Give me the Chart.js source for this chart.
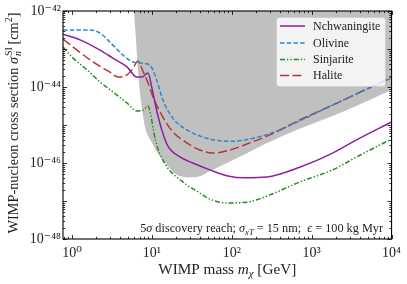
<!DOCTYPE html>
<html>
<head>
<meta charset="utf-8">
<script src="https://cdn.jsdelivr.net/npm/chart.js@4/dist/chart.umd.min.js"></script>
<style>
  html, body { margin: 0; padding: 0; background: #ffffff; }
  #wrap { width: 407px; height: 284px; }
</style>
</head>
<body>
<div id="wrap"><canvas id="c" width="407" height="284"></canvas></div>
<script>
// ---------------- DATA ----------------
const seriesNames = ['Nchwaningite', 'Olivine', 'Sinjarite', 'Halite'];

const massNchwaningite = [0.77, 1.26, 2.24, 3.25, 4.87, 6.49, 7.5, 8.91, 10.0, 11.5, 13.3, 15.8, 22.4, 32.5, 53.1, 89.1, 145, 274, 708, 1830, 3652, 10000];
const sigmaNchwaningite = [2.45e-43, 1.74e-43, 9.33e-44, 5.75e-44, 3.39e-44, 1.82e-44, 1.82e-44, 2.34e-44, 9.33e-45, 2.34e-45, 7.41e-46, 2.82e-46, 1.45e-46, 1.0e-46, 6.61e-47, 4.57e-47, 4.07e-47, 4.27e-47, 7.76e-47, 1.82e-46, 4.07e-46, 1.20e-45];

const massOlivine = [0.77, 1.26, 1.68, 2.24, 2.99, 4.34, 5.79, 7.08, 8.66, 10.0, 11.5, 13.7, 18.3, 27.4, 36.5, 53.1, 94.4, 194, 398, 708, 2239, 10000];
const sigmaOlivine = [3.16e-43, 3.16e-43, 3.16e-43, 2.63e-43, 1.51e-43, 6.92e-44, 4.57e-44, 4.27e-44, 4.07e-44, 3.16e-44, 1.51e-44, 4.57e-45, 1.51e-45, 7.41e-46, 5.50e-46, 4.27e-46, 3.72e-46, 4.57e-46, 7.41e-46, 1.29e-45, 4.07e-45, 1.74e-44];

const massSinjarite = [0.77, 1.03, 1.54, 2.24, 3.25, 4.87, 6.49, 7.72, 8.91, 9.72, 10.6, 11.9, 14.1, 16.8, 21.1, 27.4, 36.5, 53.1, 86.6, 154, 299, 708, 1830, 3652, 10000];
const sigmaSinjarite = [1.12e-43, 5.75e-44, 2.82e-44, 1.35e-44, 7.41e-45, 3.80e-45, 2.34e-45, 2.45e-45, 3.16e-45, 1.74e-45, 6.17e-46, 2.34e-46, 1.07e-46, 6.17e-47, 4.07e-47, 2.63e-47, 1.82e-47, 1.12e-47, 8.91e-48, 9.33e-48, 1.45e-47, 3.16e-47, 6.61e-47, 1.45e-46, 4.27e-46];

const massHalite = [0.77, 1.155, 1.83, 2.99, 3.76, 4.87, 5.62, 6.68, 7.7, 8.91, 10.3, 13.7, 18.3, 27.4, 39.8, 57.9, 94.4, 168, 299, 708, 2239, 10000];
const sigmaHalite = [1.82e-43, 9.33e-44, 4.57e-44, 2.45e-44, 1.82e-44, 2.09e-44, 2.82e-44, 4.79e-44, 2.63e-44, 1.29e-44, 5.50e-45, 1.62e-45, 6.61e-46, 3.39e-46, 2.19e-46, 1.82e-46, 2.19e-46, 3.39e-46, 5.50e-46, 1.35e-45, 4.07e-45, 1.82e-44];

// lower edge of the shaded region
const massShaded = [5.96, 6.31, 6.68, 7.08, 7.72, 8.18, 10.0, 11.5, 13.7, 15.8, 18.3, 22.4, 28.2, 36.5, 57.9, 398, 2738, 10000];
const sigmaShaded = [1e-42, 1.74e-43, 2.82e-44, 6.92e-45, 1.82e-45, 8.91e-46, 3.39e-46, 1.95e-46, 1.20e-46, 8.32e-47, 5.75e-47, 4.57e-47, 4.17e-47, 4.27e-47, 6.61e-47, 4.79e-46, 2.45e-45, 8.32e-45];

const xTickValues = [1, 10, 100, 1000, 10000];
const xTickLabels = ['10⁰', '10¹', '10²', '10³', '10⁴'];
const yTickValues = [1e-48, 1e-46, 1e-44, 1e-42];
const yTickLabels = ['10⁻⁴⁸', '10⁻⁴⁶', '10⁻⁴⁴', '10⁻⁴²'];

const xTitle = 'WIMP mass m_χ [GeV]';
const yTitle = 'WIMP-nucleon cross section σ_n^SI [cm²]';
const noteText = '5σ discovery reach; σ_xT = 15 nm; ϵ = 100 kg Myr';

// ---------------- STYLE ----------------
const FAMILY = '"Liberation Serif", "DejaVu Serif", serif';
const colors = { Nchwaningite: '#8e1f9d', Olivine: '#3386c8', Sinjarite: '#1f8c1f', Halite: '#b23838' };
const dashes = { Nchwaningite: [], Olivine: [4.5, 2.2], Sinjarite: [5, 2, 1.4, 2, 1.4, 2], Halite: [9, 3.5] };

function lineSet(name, m, s, order) {
  return {
    label: name,
    data: m.map((x, i) => ({ x: x, y: s[i] })),
    borderColor: colors[name],
    borderWidth: 1.5,
    borderDash: dashes[name],
    pointRadius: 0,
    fill: false,
    cubicInterpolationMode: 'monotone',
    order: order
  };
}

const datasets = [
  lineSet('Nchwaningite', massNchwaningite, sigmaNchwaningite, 0),
  lineSet('Olivine', massOlivine, sigmaOlivine, 1),
  lineSet('Sinjarite', massSinjarite, sigmaSinjarite, 2),
  lineSet('Halite', massHalite, sigmaHalite, 3),
  {
    label: 'shaded',
    data: massShaded.map((x, i) => ({ x: x, y: sigmaShaded[i] })),
    borderColor: 'rgba(0,0,0,0)',
    borderWidth: 0,
    backgroundColor: '#c0c0c0',
    pointRadius: 0,
    fill: 'end',
    cubicInterpolationMode: 'monotone',
    order: 10
  }
];

// ---------------- rich text helpers ----------------
function fontStr(size, it) { return (it ? 'italic ' : '') + size.toFixed(2) + 'px ' + FAMILY; }
function runWidth(ctx, r, size) {
  const k = r.k || 1;
  if (r.stack) {
    ctx.font = fontStr(size * k, false); const a = ctx.measureText(r.sup).width;
    ctx.font = fontStr(size * k, true); const b = ctx.measureText(r.sub).width;
    return Math.max(a, b);
  }
  ctx.font = fontStr(size * k, r.it);
  return ctx.measureText(r.t).width;
}
function richWidth(ctx, runs, size) { return runs.reduce((w, r) => w + runWidth(ctx, r, size), 0); }
function drawRich(ctx, runs, x, y, size, align) {
  const w = richWidth(ctx, runs, size);
  let cx = align === 'center' ? x - w / 2 : (align === 'right' ? x - w : x);
  ctx.textBaseline = 'alphabetic';
  ctx.textAlign = 'left';
  for (const r of runs) {
    const k = r.k || 1;
    if (r.stack) {
      ctx.font = fontStr(size * k, false);
      ctx.fillText(r.sup, cx + 1, y - size * 0.42);
      ctx.font = fontStr(size * k, true);
      ctx.fillText(r.sub, cx + 1, y + size * 0.22);
    } else {
      ctx.font = fontStr(size * k, r.it);
      ctx.fillText(r.t, cx, y - (r.dy || 0) * size);
    }
    cx += runWidth(ctx, r, size);
  }
}
function fitSize(ctx, runs, target) { return 10 * target / richWidth(ctx, runs, 10); }

const yTitleRuns = [
  { t: 'WIMP-nucleon cross section ' }, { t: 'σ', it: 1 },
  { stack: 1, sup: 'SI', sub: 'n', k: 0.7 }, { t: ' [cm' }, { t: '2', k: 0.7, dy: 0.42 }, { t: ']' }
];
const xTitleRuns = [
  { t: 'WIMP mass ' }, { t: 'm', it: 1 }, { t: 'χ', it: 1, k: 0.7, dy: -0.22 }, { t: ' [GeV]' }
];
const noteRuns = [
  { t: '5' }, { t: 'σ', it: 1 }, { t: ' discovery reach; ' }, { t: 'σ', it: 1 },
  { t: 'xT', it: 1, k: 0.7, dy: -0.22 }, { t: ' = 15 nm;  ' }, { t: 'ϵ', it: 1 }, { t: ' = 100 kg Myr' }
];

// ---------------- plugin ----------------
const decor = {
  id: 'decor',
  afterDatasetsDraw(chart) {
    const ctx = chart.ctx;
    // legend
    const lx0 = 276, ly0 = 17, lx1 = 385, ly1 = 86;
    ctx.save();
    ctx.beginPath();
    ctx.roundRect(lx0 + 0.5, ly0 + 0.5, lx1 - lx0, ly1 - ly0, 3);
    ctx.fillStyle = 'rgba(255,255,255,0.8)';
    ctx.fill();
    ctx.strokeStyle = 'rgba(204,204,204,0.8)';
    ctx.lineWidth = 1;
    ctx.stroke();
    const rows = [26, 43, 59.5, 75.5];
    seriesNames.forEach((n, i) => {
      const d = chart.data.datasets.find(s => s.label === n);
      ctx.beginPath();
      ctx.setLineDash(d.borderDash);
      ctx.strokeStyle = d.borderColor;
      ctx.lineWidth = d.borderWidth;
      ctx.moveTo(280, rows[i]); ctx.lineTo(305, rows[i]);
      ctx.stroke();
      ctx.setLineDash([]);
      ctx.fillStyle = '#222';
      ctx.font = fontStr(12, false);
      ctx.textBaseline = 'middle';
      ctx.textAlign = 'left';
      ctx.fillText(n, 313, rows[i] + 0.5);
    });
    ctx.restore();
  },
  afterDraw(chart) {
    const ctx = chart.ctx;
    const a = chart.chartArea;
    const xs = chart.scales.x, ys = chart.scales.y;
    ctx.save();
    ctx.strokeStyle = '#000';
    ctx.lineWidth = 0.8;
    for (let e = -1; e <= 4; e++) {
      for (let k = 1; k <= 9; k++) {
        const v = k * Math.pow(10, e);
        if (v < xs.min * 0.999 || v > xs.max * 1.001) continue;
        const p = Math.round(xs.getPixelForValue(v)) + 0.5;
        const L = k === 1 ? 4 : 2.2;
        ctx.beginPath();
        ctx.moveTo(p, a.bottom); ctx.lineTo(p, a.bottom - L);
        ctx.moveTo(p, a.top); ctx.lineTo(p, a.top + L);
        ctx.stroke();
      }
    }
    for (let e = -48; e <= -42; e++) {
      for (let k = 1; k <= 9; k++) {
        const v = k * Math.pow(10, e);
        if (v < ys.min * 0.999 || v > ys.max * 1.001) continue;
        const p = Math.round(ys.getPixelForValue(v)) + 0.5;
        const L = k === 1 ? 4 : 2.2;
        ctx.beginPath();
        ctx.moveTo(a.left, p); ctx.lineTo(a.left + L, p);
        ctx.moveTo(a.right, p); ctx.lineTo(a.right - L, p);
        ctx.stroke();
      }
    }
    ctx.lineWidth = 1.1;
    ctx.strokeRect(a.left, a.top, a.right - a.left, a.bottom - a.top);

    ctx.fillStyle = '#222';
    const xs2 = fitSize(ctx, xTitleRuns, 138);
    drawRich(ctx, xTitleRuns, (a.left + a.right) / 2, 274, xs2, 'center');
    const ys2 = fitSize(ctx, yTitleRuns, 221);
    ctx.save();
    ctx.translate(18, (a.top + a.bottom) / 2 - 2);
    ctx.rotate(-Math.PI / 2);
    drawRich(ctx, yTitleRuns, 0, 0, ys2, 'center');
    ctx.restore();
    const ns = fitSize(ctx, noteRuns, 243);
    drawRich(ctx, noteRuns, 383, 232, ns, 'right');
    ctx.restore();
  }
};

// ---------------- chart ----------------
new Chart(document.getElementById('c'), {
  type: 'line',
  data: { datasets: datasets },
  options: {
    responsive: false,
    animation: false,
    devicePixelRatio: 1,
    layout: { padding: { top: 11, right: 15, left: 0, bottom: 0 } },
    plugins: { legend: { display: false }, tooltip: { enabled: false } },
    scales: {
      x: {
        type: 'logarithmic',
        min: 0.77, max: 10000,
        grid: { display: false, drawTicks: false },
        border: { display: false },
        afterBuildTicks: s => { s.ticks = xTickValues.map(v => ({ value: v })); },
        afterFit: s => { s.height = 45; },
        ticks: {
          autoSkip: false, maxRotation: 0, padding: 6,
          color: '#222',
          font: { family: FAMILY, size: 14 },
          callback: (v) => { const i = xTickValues.indexOf(v); return i >= 0 ? xTickLabels[i] : ''; }
        }
      },
      y: {
        type: 'logarithmic',
        min: 1e-48, max: 1e-42,
        grid: { display: false, drawTicks: false },
        border: { display: false },
        afterBuildTicks: s => { s.ticks = yTickValues.map(v => ({ value: v })); },
        afterFit: s => { s.width = 63; },
        ticks: {
          autoSkip: false, padding: 2,
          color: '#222',
          font: { family: FAMILY, size: 14 },
          callback: (v) => { const i = yTickValues.findIndex(t => Math.abs(t - v) / t < 1e-6); return i >= 0 ? yTickLabels[i] : ''; }
        }
      }
    }
  },
  plugins: [decor]
});
</script>
</body>
</html>
